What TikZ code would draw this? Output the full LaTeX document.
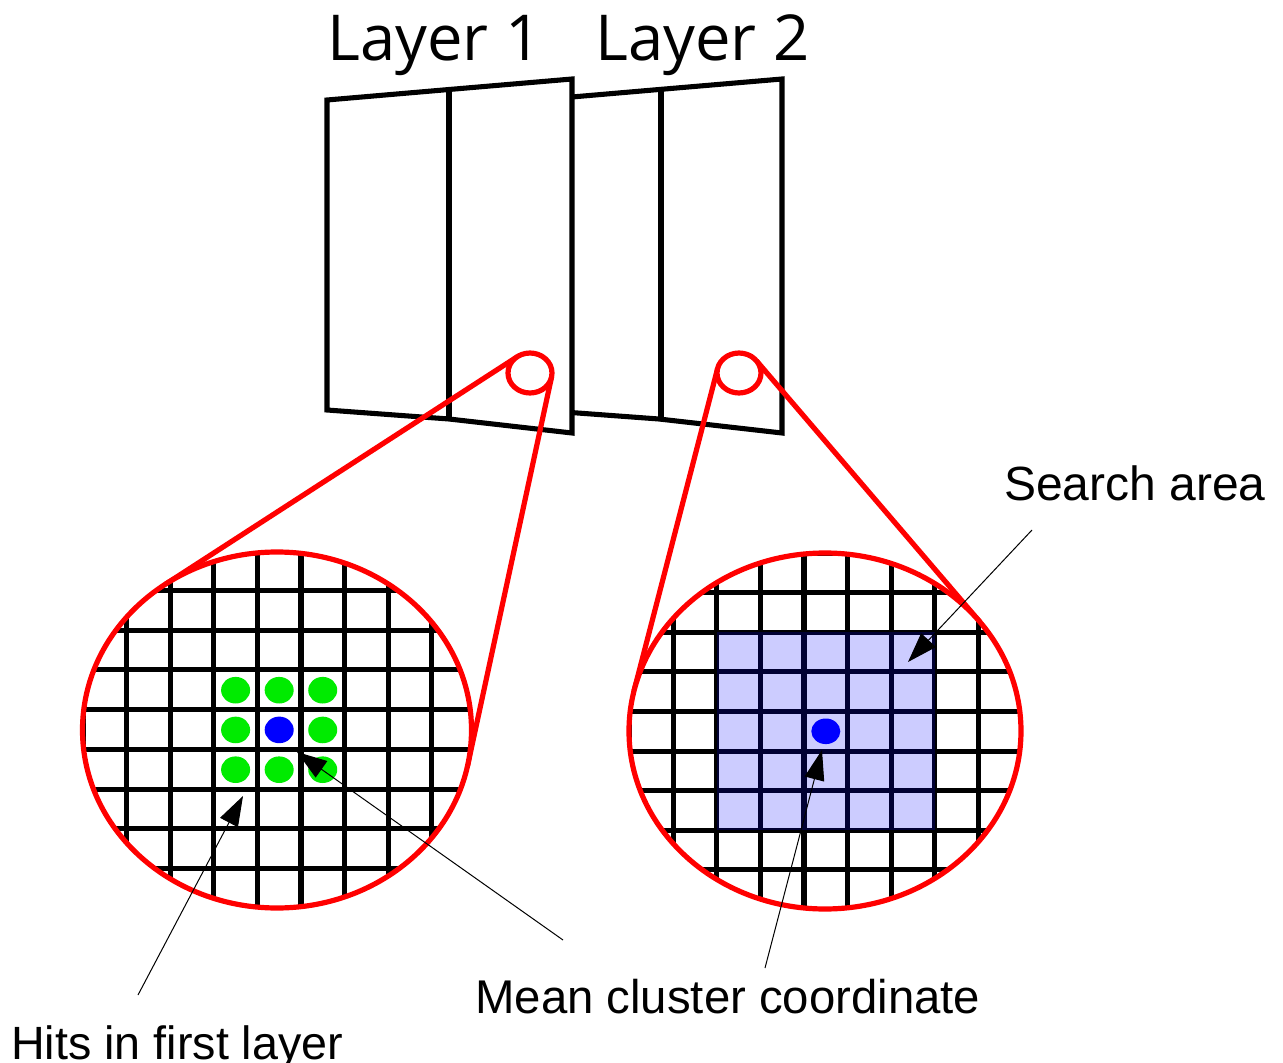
\documentclass[tikz,border=0pt]{standalone}
\usepackage{fontspec}
\setmainfont{Liberation Sans}
\newfontfamily\layerfont{Open Sans}
\usetikzlibrary{arrows.meta}
\definecolor{hitgreen}{RGB}{0,235,0}

\begin{document}
\begin{tikzpicture}[x=0.75pt,y=-0.75pt,
  panel/.style={draw=black, line width=3.8pt, fill=white},
  divider/.style={draw=black, line width=3.8pt},
  lens/.style={draw=red, line width=3.9pt},
  gridline/.style={draw=black, line width=3.8pt},
  hit/.style={fill=hitgreen},
  mean/.style={fill=blue},
  pointer/.style={draw=black, line width=0.75pt, -{Triangle[length=22.5pt,width=15pt]}},
  caption/.style={inner sep=0pt, anchor=base west, font=\fontsize{35}{42}\selectfont},
  layertitle/.style={inner sep=0pt, anchor=base west, font=\layerfont\fontsize{47.5}{57}\selectfont}
]
\useasboundingbox (0,0) rectangle (1283,1063);

% --- detector layers (second one sits behind the first) ---
\begin{scope}[xshift=157.5pt]
  \draw[panel] (327,100) -- (449,89.5) -- (572,79) -- (572,433) -- (449,419) -- (327,410) -- cycle;
  \draw[divider] (451,89.5) -- (451,419);
\end{scope}
\draw[panel] (327,100) -- (449,89.5) -- (572,79) -- (572,433) -- (449,419) -- (327,410) -- cycle;
\draw[divider] (449,89.5) -- (449,419);

\node[layertitle] (title1) at (327,61) {Layer 1};
\node[layertitle] (title2) at (595,61) {Layer 2};

% --- centres of the magnifier lenses ---
\coordinate (spotA) at (530,373);
\coordinate (spotB) at (739,373);
\coordinate (zoomA) at (277,730);
\coordinate (zoomB) at (825,731);

% --- tangent lines from the small spots to the enlarged views ---
\draw[lens] (517.3,356.7) -- (165.2,584.4);
\draw[lens] (551.6,376.9) -- (467.7,765.2);
\draw[lens] (717.6,368.5) -- (634.0,690.9);
\draw[lens] (756.4,360.7) -- (979.9,621.9);
\draw[lens, fill=white] (spotA) ellipse [x radius=22, y radius=20];
\draw[lens, fill=white] (spotB) ellipse [x radius=22, y radius=20];

% --- enlarged view of the first layer ---
\fill[white] (zoomA) ellipse [x radius=194.5, y radius=178];
\begin{scope}
  \clip (zoomA) ellipse [x radius=194.5, y radius=178];
  \foreach \i in {-1,...,8} {
    \draw[gridline] ({126.7+43.57*\i},540) -- ({126.7+43.57*\i},920);
    \draw[gridline] (70,{590.3+39.75*\i}) -- (490,{590.3+39.75*\i});
  }
\end{scope}
\foreach \cx/\cy in {0/0,1/0,2/0,0/1,2/1,0/2,1/2,2/2}
  \fill[hit] ({235.6+43.57*\cx},{690.2+39.75*\cy}) ellipse [x radius=14.5, y radius=13.3];
\fill[mean] (279.2,729.9) ellipse [x radius=14.5, y radius=13.3];
\draw[lens] (zoomA) ellipse [x radius=194.5, y radius=178];

% --- enlarged view of the second layer ---
\fill[white] (zoomB) ellipse [x radius=196, y radius=178];
\begin{scope}
  \clip (zoomB) ellipse [x radius=196, y radius=178];
  \foreach \i in {-1,...,8} {
    \draw[gridline] ({673.3+43.57*\i},540) -- ({673.3+43.57*\i},920);
    \draw[gridline] (620,{592.7+39.6*\i}) -- (1030,{592.7+39.6*\i});
  }
  \fill[blue, fill opacity=0.2] (716.9,632.3) rectangle (934.7,830.3);
\end{scope}
\fill[mean] (825.8,731.3) ellipse [x radius=14.5, y radius=12.8];
\draw[lens] (zoomB) ellipse [x radius=196, y radius=178];

% --- captions and pointers ---
\node[caption, font=\fontsize{36}{43}\selectfont] (search) at (1004,500) {Search area};
\node[caption, font=\fontsize{35.5}{42}\selectfont] (meanlabel) at (475,1013) {Mean cluster coordinate};
\node[caption] (hits) at (11,1059) {Hits in first layer};

\coordinate (searchTail) at (1032,530);
\coordinate (searchTip) at (908,662);
\coordinate (meanTailA) at (563,940);
\coordinate (meanTipA) at (297,752);
\coordinate (meanTailB) at (765,968);
\coordinate (meanTipB) at (822,750);
\coordinate (hitsTail) at (138,995);
\coordinate (hitsTip) at (243,796);

\draw[pointer] (searchTail) -- (searchTip);
\draw[pointer] (meanTailA) -- (meanTipA);
\draw[pointer] (meanTailB) -- (meanTipB);
\draw[pointer] (hitsTail) -- (hitsTip);
\end{tikzpicture}
\end{document}
